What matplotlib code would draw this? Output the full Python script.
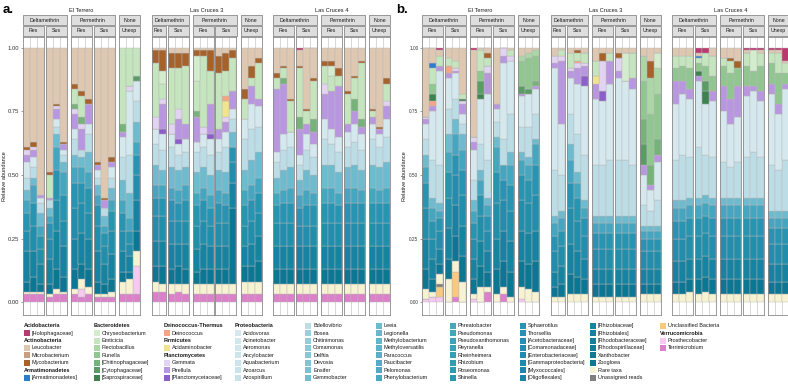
import matplotlib
matplotlib.use("Agg")
import matplotlib.pyplot as plt
from matplotlib.colors import LinearSegmentedColormap
from matplotlib.patches import Rectangle

plt.rcParams['font.family'] = ['Liberation Sans', 'DejaVu Sans']

W, H = 788, 384

# ---- taxonomy (legend order) ----
groups = [
    ("Acidobacteria", ["[Holophagaceae]"]),
    ("Actinobacteria", ["Leucobacter", "Microbacterium", "Mycobacterium"]),
    ("Armatimonadetes", ["[Armatimonadetes]"]),
    ("Bacteroidetes", ["Chryseobacterium", "Emticicia", "Flectobacillus", "Runella",
                       "[Chitinophagaceae]", "[Cytophagaceae]", "[Saprospiraceae]"]),
    ("Deinococcus-Thermus", ["Deinococcus"]),
    ("Firmicutes", ["Acidaminobacter"]),
    ("Planctomycetes", ["Gemmata", "Pirellula", "[Planctomycetaceae]"]),
    ("Proteobacteria", ["Acidovorax", "Acinetobacter", "Aeromonas", "Ancylobacter", "Aquabacterium",
                        "Azoarcus", "Azospirillum", "Bdellovibrio", "Bosea", "Chitinimonas", "Comamonas",
                        "Delftia", "Devosia", "Ensifer", "Gemmobacter", "Leeia", "Legionella",
                        "Methylobacterium", "Methyloversatilis", "Paracoccus", "Paucibacter", "Pelomonas",
                        "Phenylobacterium", "Phreatobacter", "Pseudomonas", "Pseudoxanthomonas",
                        "Reyranella", "Rheinheimera", "Rhizobium", "Roseomonas", "Shinella",
                        "Sphaerotilus", "Thorsellia", "[Acetobacteraceae]", "[Comamonadaceae]",
                        "[Enterobacteriaceae]", "[Gammaproteobacteria]", "[Myxococcales]",
                        "[Oligoflexales]", "[Rhizobiaceae]", "[Rhizobiales]", "[Rhodobacteraceae]",
                        "[Rhodospirillaceae]", "Xanthobacter", "Zoogloea"]),
    (None, ["Rare taxa", "Unassigned reads", "Unclassified Bacteria"]),
    ("Verrucomicrobia", ["Prosthecobacter", "Terrimicrobium"]),
]

fixed_colors = {
    "[Holophagaceae]": "#b83a6e", "Leucobacter": "#dfc8b1", "Microbacterium": "#c6a07f",
    "Mycobacterium": "#a5632b", "[Armatimonadetes]": "#2e7bc8",
    "Chryseobacterium": "#d3ecce", "Emticicia": "#c4e5bd", "Flectobacillus": "#abd7a6",
    "Runella": "#92c690", "[Chitinophagaceae]": "#77b27b", "[Cytophagaceae]": "#5b9c66",
    "[Saprospiraceae]": "#3e824f", "Deinococcus": "#f5a585", "Acidaminobacter": "#f2e38e",
    "Gemmata": "#e2d3f2", "Pirellula": "#b897e0", "[Planctomycetaceae]": "#8b5ec9",
    "Rare taxa": "#f6f2d2", "Unassigned reads": "#808080", "Unclassified Bacteria": "#f8c97f",
    "Prosthecobacter": "#f7c9f1", "Terrimicrobium": "#dc80c9",
}
proteo_cmap = LinearSegmentedColormap.from_list(
    "proteo", [(0, "#d4e8ee"), (0.15, "#c6e1e9"), (0.18, "#9ccfdc"), (0.35, "#6cb9cd"),
               (0.5, "#4aa8c2"), (0.7, "#2995b2"), (0.85, "#1a87a5"), (1.0, "#0d7693")])

taxa = [t for _, items in groups for t in items]
colors = dict(fixed_colors)
proteo = groups[7][1]
for i, t in enumerate(proteo):
    colors[t] = proteo_cmap(i / (len(proteo) - 1))

CODES = {'Hol': '[Holophagaceae]', 'Leu': 'Leucobacter', 'Mic': 'Microbacterium',
         'Myc': 'Mycobacterium', 'Arm': '[Armatimonadetes]', 'Chr': 'Chryseobacterium',
         'Emt': 'Emticicia', 'Fle': 'Flectobacillus', 'Run': 'Runella',
         'Cht': '[Chitinophagaceae]', 'Cyt': '[Cytophagaceae]', 'Sap': '[Saprospiraceae]',
         'Dei': 'Deinococcus', 'Aca': 'Acidaminobacter', 'Gmt': 'Gemmata', 'Pir': 'Pirellula',
         'Pla': '[Planctomycetaceae]', 'Acv': 'Acidovorax', 'Bde': 'Bdellovibrio', 'Lee': 'Leeia',
         'Phr': 'Phreatobacter', 'Sph': 'Sphaerotilus', 'Cmd': '[Comamonadaceae]',
         'Rzc': '[Rhizobiaceae]', 'Zoo': 'Zoogloea', 'Rt': 'Rare taxa', 'Un': 'Unassigned reads',
         'Ub': 'Unclassified Bacteria', 'Pro': 'Prosthecobacter', 'Ter': 'Terrimicrobium'}

# ---- relative abundance (%) per sample; facets: Delta Res, Delta Sus, Per Res, Per Sus, None ----
a_terrero = [
    [dict(Ter=3, Rt=1, Zoo=4, Rzc=12, Cmd=8, Sph=7, Phr=5, Lee=4, Bde=5, Acv=6, Gmt=2, Pir=3, Myc=1, Leu=39),
     dict(Ter=3, Rt=1, Zoo=6, Rzc=10, Cmd=10, Sph=9, Phr=7, Lee=3, Bde=4, Acv=4, Gmt=1, Pir=3, Myc=2, Leu=37),
     dict(Ter=3, Rt=1, Zoo=3, Rzc=8, Cmd=6, Sph=5, Phr=4, Lee=5, Bde=4, Acv=2, Pir=1, Leu=58)],
    [dict(Ter=2, Rt=1, Zoo=4, Rzc=10, Cmd=8, Sph=6, Phr=3, Lee=3, Bde=3, Pir=1, Emt=9, Myc=1, Leu=49),
     dict(Ter=3, Rt=2, Zoo=8, Rzc=15, Cmd=12, Sph=12, Phr=9, Lee=5, Bde=3, Acv=3, Gmt=1, Pir=4, Myc=1, Leu=22),
     dict(Ter=3, Rt=1, Zoo=6, Rzc=12, Cmd=10, Sph=10, Phr=9, Lee=4, Bde=3, Acv=2, Pir=2, Myc=1, Leu=37)],
    [dict(Ter=3, Rt=2, Zoo=8, Rzc=12, Cmd=12, Sph=10, Phr=6, Lee=5, Bde=6, Acv=4, Pir=6, Gmt=2, Cht=2, Emt=6, Myc=2, Leu=14),
     dict(Ter=2, Pro=3, Rt=4, Zoo=6, Rzc=12, Cmd=12, Sph=8, Phr=6, Lee=4, Bde=3, Pir=8, Gmt=2, Cht=3, Emt=8, Myc=2, Leu=17),
     dict(Ter=3, Rt=3, Zoo=7, Rzc=12, Cmd=10, Sph=10, Phr=6, Lee=8, Bde=7, Acv=4, Pir=8, Myc=2, Leu=20)],
    [dict(Ter=2, Rt=1, Zoo=5, Rzc=12, Cmd=10, Sph=8, Phr=4, Lee=4, Bde=3, Acv=3, Pir=2, Myc=1, Leu=45),
     dict(Ter=2, Rt=1, Zoo=4, Rzc=8, Cmd=7, Sph=5, Phr=3, Lee=4, Bde=3, Pir=3, Myc=1, Leu=59),
     dict(Ter=2, Rt=2, Zoo=5, Rzc=10, Cmd=9, Sph=8, Phr=4, Lee=5, Bde=4, Acv=4, Pir=2, Myc=2, Leu=43)],
    [dict(Ter=3, Rt=5, Zoo=4, Rzc=8, Cmd=8, Sph=7, Phr=5, Lee=8, Bde=9, Acv=8, Pir=2, Cht=3, Emt=30),
     dict(Ter=3, Rt=6, Zoo=3, Rzc=6, Cmd=5, Sph=5, Phr=5, Lee=10, Bde=15, Acv=25, Gmt=2, Emt=15),
     dict(Ter=3, Pro=11, Rt=6, Zoo=8, Rzc=12, Cmd=10, Sph=8, Phr=5, Lee=8, Bde=8, Acv=8, Cyt=2, Emt=11)],
]
a_cruces3 = [
    [dict(Ter=4, Rt=4, Zoo=6, Rzc=10, Cmd=10, Sph=7, Phr=5, Lee=8, Bde=8, Acv=6, Gmt=5, Emt=21, Myc=5, Leu=1),
     dict(Ter=4, Rt=3, Zoo=7, Rzc=10, Cmd=10, Sph=7, Phr=5, Lee=6, Bde=8, Acv=6, Pla=2, Pir=10, Gmt=2, Emt=6, Chr=5, Myc=8, Leu=1)],
    [dict(Ter=3, Rt=4, Zoo=6, Rzc=10, Cmd=9, Sph=8, Phr=5, Lee=8, Bde=8, Acv=5, Gmt=4, Emt=22, Myc=6, Leu=2),
     dict(Ter=4, Rt=3, Zoo=7, Rzc=9, Cmd=9, Sph=7, Phr=5, Lee=8, Bde=6, Acv=4, Pla=2, Pir=8, Gmt=4, Emt=16, Myc=6, Leu=2),
     dict(Ter=3, Rt=4, Zoo=6, Rzc=10, Cmd=9, Sph=8, Phr=6, Lee=7, Bde=6, Acv=5, Pir=6, Emt=23, Myc=5, Leu=2)],
    [dict(Ter=3, Rt=4, Zoo=5, Rzc=9, Cmd=9, Sph=8, Phr=5, Lee=8, Bde=8, Acv=4, Pir=10, Emt=12, Cht=2, Chr=10, Myc=2, Leu=1),
     dict(Ter=3, Rt=4, Zoo=6, Rzc=10, Cmd=9, Sph=8, Phr=5, Lee=8, Bde=8, Acv=5, Gmt=3, Emt=28, Myc=2, Leu=1),
     dict(Ter=3, Rt=4, Zoo=6, Rzc=9, Cmd=8, Sph=7, Phr=5, Lee=8, Bde=8, Acv=6, Pla=2, Pir=12, Emt=13, Myc=8, Leu=1)],
    [dict(Ter=3, Rt=4, Zoo=6, Rzc=9, Cmd=9, Sph=8, Phr=5, Lee=8, Bde=7, Acv=5, Pir=4, Emt=22, Myc=7, Leu=3),
     dict(Ter=3, Rt=4, Zoo=6, Rzc=9, Cmd=9, Sph=7, Phr=5, Lee=8, Bde=10, Acv=6, Gmt=2, Pir=4, Aca=6, Dei=2, Emt=10, Myc=7, Leu=2),
     dict(Ter=3, Rt=4, Zoo=30, Rzc=10, Cmd=8, Sph=6, Lee=6, Bde=5, Acv=4, Pir=7, Emt=13, Myc=3, Leu=1)],
    [dict(Ter=3, Rt=5, Zoo=6, Rzc=8, Cmd=8, Sph=8, Phr=6, Lee=8, Bde=12, Acv=8, Emt=8, Myc=4, Leu=16),
     dict(Ter=3, Rt=5, Zoo=6, Rzc=9, Cmd=9, Sph=8, Phr=6, Lee=10, Bde=12, Acv=10, Pir=7, Emt=3, Myc=5, Leu=7),
     dict(Ter=3, Rt=5, Zoo=8, Rzc=10, Cmd=9, Sph=8, Phr=6, Lee=10, Bde=10, Acv=8, Pir=3, Emt=14, Myc=2, Leu=4)],
]
a_cruces4 = [
    [dict(Ter=3, Rt=4, Zoo=6, Rzc=9, Cmd=9, Sph=7, Phr=5, Lee=6, Bde=6, Acv=4, Pir=25, Emt=4, Myc=2, Leu=10),
     dict(Ter=3, Rt=4, Zoo=6, Rzc=9, Cmd=9, Sph=8, Phr=5, Lee=8, Bde=8, Acv=6, Pir=20, Cht=2, Emt=4, Myc=1, Leu=7),
     dict(Ter=3, Rt=4, Zoo=6, Rzc=9, Cmd=9, Sph=8, Phr=6, Lee=8, Bde=8, Acv=6, Emt=12, Myc=1, Leu=20)],
    [dict(Ter=3, Rt=4, Zoo=6, Rzc=9, Cmd=8, Sph=7, Phr=5, Lee=6, Bde=6, Acv=4, Pir=10, Cht=5, Emt=19, Myc=1, Leu=6, Hol=1),
     dict(Ter=3, Rt=4, Zoo=6, Rzc=9, Cmd=8, Sph=8, Phr=6, Lee=8, Bde=8, Acv=6, Pir=4, Emt=5, Myc=1, Leu=24),
     dict(Ter=3, Rt=4, Zoo=6, Rzc=9, Cmd=8, Sph=8, Phr=5, Lee=7, Bde=7, Acv=5, Pir=5, Cht=5, Emt=15, Myc=1, Leu=12)],
    [dict(Ter=3, Rt=4, Zoo=6, Rzc=9, Cmd=9, Sph=8, Phr=6, Lee=9, Bde=10, Acv=8, Gmt=4, Pir=10, Emt=7, Myc=2, Leu=5),
     dict(Ter=3, Rt=4, Zoo=6, Rzc=9, Cmd=9, Sph=8, Phr=6, Lee=9, Bde=8, Acv=6, Pir=15, Chr=4, Emt=6, Myc=2, Leu=5),
     dict(Ter=3, Rt=4, Zoo=6, Rzc=9, Cmd=9, Sph=7, Phr=5, Lee=8, Bde=8, Acv=6, Pir=20, Emt=4, Myc=3, Leu=8)],
    [dict(Ter=3, Rt=4, Zoo=6, Rzc=9, Cmd=9, Sph=8, Phr=6, Lee=8, Bde=8, Acv=6, Pir=3, Emt=12, Myc=1, Leu=17),
     dict(Ter=3, Rt=4, Zoo=6, Rzc=9, Cmd=9, Sph=8, Phr=6, Lee=9, Bde=9, Acv=7, Pir=5, Cht=5, Emt=8, Myc=1, Leu=11),
     dict(Ter=3, Rt=4, Zoo=6, Rzc=9, Cmd=9, Sph=8, Phr=5, Lee=8, Bde=8, Acv=6, Pir=3, Cht=3, Emt=22, Myc=1, Leu=5)],
    [dict(Ter=3, Rt=4, Zoo=6, Rzc=9, Cmd=9, Sph=8, Phr=6, Lee=9, Bde=10, Acv=6, Pir=3, Emt=2, Myc=1, Leu=24),
     dict(Ter=3, Rt=4, Zoo=6, Rzc=9, Cmd=9, Sph=8, Phr=5, Lee=9, Bde=8, Acv=5, Pir=2, Myc=1, Leu=31),
     dict(Ter=3, Rt=4, Zoo=6, Rzc=9, Cmd=9, Sph=8, Phr=6, Lee=10, Bde=10, Acv=7, Gmt=2, Pir=5, Emt=7, Myc=2, Leu=12)],
]
b_terrero = [
    [dict(Pro=1, Rt=4, Zoo=8, Rzc=12, Cmd=12, Sph=10, Phr=6, Lee=5, Bde=6, Acv=6, Pir=2, Gmt=1, Leu=27),
     dict(Pro=2, Rt=2, Zoo=5, Rzc=8, Cmd=8, Sph=7, Phr=5, Lee=4, Bde=15, Acv=19, Pir=2, Dei=2, Sap=3, Run=4, Emt=6, Arm=2, Leu=6),
     dict(Pro=2, Ub=4, Un=1, Rt=4, Zoo=4, Rzc=6, Cmd=7, Sph=5, Phr=3, Lee=3, Bde=15, Acv=37, Pir=2, Emt=4, Leu=2, Hol=1)],
    [dict(Rt=9, Zoo=8, Rzc=12, Cmd=12, Sph=10, Phr=8, Lee=7, Bde=10, Acv=12, Pir=2, Dei=3, Emt=3, Leu=4),
     dict(Ter=2, Ub=10, Rt=4, Zoo=10, Rzc=12, Cmd=12, Sph=8, Phr=8, Lee=6, Bde=8, Acv=10, Pir=1, Gmt=1, Emt=3, Leu=5),
     dict(Rt=8, Zoo=10, Rzc=12, Cmd=12, Sph=10, Phr=8, Lee=6, Bde=4, Acv=4, Pir=4, Gmt=1, Sap=1, Emt=2, Leu=18)],
    [dict(Pro=1, Rt=2, Zoo=6, Rzc=8, Cmd=8, Sph=6, Phr=5, Lee=4, Bde=8, Acv=12, Pir=3, Gmt=2, Leu=34, Hol=1),
     dict(Rt=6, Zoo=8, Rzc=10, Cmd=10, Sph=8, Phr=6, Lee=4, Bde=10, Acv=18, Sap=2, Cyt=5, Run=4, Emt=8, Leu=1),
     dict(Ter=4, Rt=2, Zoo=6, Rzc=8, Cmd=8, Sph=6, Phr=4, Lee=3, Bde=15, Acv=26, Pir=8, Gmt=3, Emt=3, Myc=2, Leu=2)],
    [dict(Rt=3, Zoo=10, Rzc=12, Cmd=14, Sph=12, Phr=10, Lee=4, Bde=6, Acv=5, Pir=2, Leu=22),
     dict(Ter=3, Rt=3, Zoo=10, Rzc=12, Cmd=12, Sph=8, Phr=6, Bde=10, Acv=30, Pir=3, Gmt=3),
     dict(Rt=2, Zoo=10, Rzc=12, Cmd=12, Sph=10, Phr=8, Lee=5, Bde=15, Acv=21, Gmt=2, Emt=2, Leu=1)],
    [dict(Pro=1, Rt=5, Zoo=10, Rzc=12, Cmd=12, Sph=10, Phr=6, Lee=3, Bde=10, Acv=12, Pir=1, Cyt=3, Run=10, Fle=2, Leu=3),
     dict(Rt=5, Zoo=10, Rzc=12, Cmd=12, Sph=9, Phr=6, Lee=3, Bde=12, Acv=13, Cyt=2, Run=12, Fle=2, Leu=2),
     dict(Rt=4, Zoo=12, Rzc=12, Cmd=14, Sph=12, Phr=8, Lee=2, Bde=10, Acv=10, Pir=1, Cht=2, Run=10, Fle=2, Leu=1)],
]
b_cruces3 = [
    [dict(Rt=2, Zoo=4, Rzc=6, Cmd=8, Sph=6, Phr=5, Lee=3, Bde=18, Acv=40, Pir=2, Gmt=3, Leu=3),
     dict(Rt=2, Zoo=5, Rzc=7, Cmd=8, Sph=6, Phr=5, Lee=3, Bde=14, Acv=20, Pir=25, Gmt=2, Emt=2, Leu=1)],
    [dict(Rt=3, Zoo=8, Rzc=12, Cmd=14, Sph=10, Phr=9, Lee=6, Bde=12, Acv=14, Pir=3, Gmt=1, Emt=6, Leu=2),
     dict(Rt=3, Zoo=7, Rzc=10, Cmd=12, Sph=9, Phr=6, Lee=4, Bde=15, Acv=20, Pir=6, Gmt=2, Dei=1, Emt=3, Myc=1, Leu=1),
     dict(Rt=3, Zoo=6, Rzc=8, Cmd=9, Sph=7, Phr=4, Lee=3, Bde=18, Acv=27, Pla=4, Pir=4, Gmt=1, Emt=4, Leu=2)],
    [dict(Rt=2, Zoo=5, Rzc=6, Cmd=8, Sph=6, Phr=4, Lee=3, Bde=20, Acv=26, Pir=6, Aca=3, Emt=6, Leu=5),
     dict(Rt=2, Zoo=5, Rzc=6, Cmd=8, Sph=6, Phr=4, Lee=3, Bde=20, Acv=25, Pla=4, Gmt=12, Myc=3, Leu=2),
     dict(Rt=2, Zoo=5, Rzc=6, Cmd=8, Sph=6, Phr=4, Lee=3, Bde=22, Acv=30, Pir=9, Emt=3, Leu=2)],
    [dict(Rt=2, Zoo=5, Rzc=6, Cmd=8, Sph=6, Phr=4, Lee=3, Bde=22, Acv=32, Pir=3, Gmt=5, Myc=2, Leu=2),
     dict(Rt=2, Zoo=5, Rzc=6, Cmd=8, Sph=6, Phr=4, Lee=3, Bde=22, Acv=31, Chr=11, Leu=2),
     dict(Rt=2, Zoo=5, Rzc=6, Cmd=8, Sph=6, Phr=4, Lee=3, Bde=20, Acv=30, Pir=4, Emt=10, Leu=2)],
    [dict(Rt=3, Zoo=4, Rzc=6, Cmd=7, Sph=5, Phr=3, Lee=2, Bde=8, Acv=12, Pir=4, Cht=10, Cyt=8, Run=15, Fle=10, Leu=3),
     dict(Rt=3, Zoo=4, Rzc=6, Cmd=7, Sph=5, Phr=3, Lee=2, Bde=6, Acv=8, Pir=2, Cht=8, Run=20, Fle=14, Myc=7, Leu=5),
     dict(Rt=3, Zoo=4, Rzc=6, Cmd=7, Sph=5, Phr=3, Lee=2, Bde=10, Acv=15, Pir=3, Cht=6, Run=18, Fle=10, Chr=6, Leu=2)],
]
b_cruces4 = [
    [dict(Rt=3, Zoo=5, Rzc=8, Cmd=9, Sph=7, Phr=5, Lee=3, Bde=16, Acv=22, Pir=9, Run=5, Emt=5, Leu=3),
     dict(Rt=3, Zoo=5, Rzc=8, Cmd=9, Sph=7, Phr=5, Lee=3, Bde=18, Acv=24, Pir=5, Run=6, Emt=4, Leu=3),
     dict(Rt=4, Zoo=5, Rzc=8, Cmd=9, Sph=7, Phr=5, Lee=3, Bde=16, Acv=23, Pir=4, Run=8, Emt=5, Leu=3)],
    [dict(Rt=3, Zoo=6, Rzc=8, Cmd=9, Sph=7, Phr=5, Lee=3, Bde=20, Acv=26, Pir=2, Sap=2, Run=3, Emt=2, Arm=1, Leu=1, Hol=2),
     dict(Rt=4, Zoo=6, Rzc=8, Cmd=9, Sph=7, Phr=5, Lee=3, Bde=16, Acv=20, Sap=5, Cyt=4, Run=6, Emt=5, Hol=2),
     dict(Rt=3, Zoo=6, Rzc=8, Cmd=9, Sph=7, Phr=5, Lee=3, Bde=16, Acv=22, Pir=4, Run=6, Emt=8, Leu=3)],
    [dict(Rt=3, Zoo=6, Rzc=8, Cmd=9, Sph=7, Phr=5, Lee=3, Bde=14, Acv=20, Pir=10, Run=8, Emt=3, Leu=4),
     dict(Rt=3, Zoo=6, Rzc=8, Cmd=9, Sph=7, Phr=5, Lee=3, Bde=12, Acv=17, Pir=10, Run=10, Emt=5, Myc=1, Leu=4),
     dict(Rt=3, Zoo=6, Rzc=8, Cmd=9, Sph=7, Phr=5, Lee=3, Bde=14, Acv=18, Pir=12, Run=7, Myc=3, Leu=5)],
    [dict(Rt=3, Zoo=6, Rzc=8, Cmd=9, Sph=7, Phr=5, Lee=3, Bde=16, Acv=24, Pir=4, Run=8, Emt=5, Leu=1, Hol=1),
     dict(Rt=3, Zoo=6, Rzc=8, Cmd=9, Sph=7, Phr=5, Lee=3, Bde=18, Acv=24, Pir=2, Run=6, Chr=8, Hol=1),
     dict(Rt=3, Zoo=6, Rzc=8, Cmd=9, Sph=7, Phr=5, Lee=3, Bde=16, Acv=22, Pir=4, Run=10, Emt=5, Leu=1, Hol=1)],
    [dict(Rt=3, Zoo=5, Rzc=7, Cmd=8, Sph=6, Phr=4, Lee=3, Bde=18, Acv=28, Pir=4, Run=8, Emt=4, Leu=1, Hol=1),
     dict(Rt=3, Zoo=5, Rzc=7, Cmd=8, Sph=6, Phr=4, Lee=3, Bde=16, Acv=22, Pir=4, Run=12, Emt=8, Leu=1, Hol=1),
     dict(Rt=3, Zoo=5, Rzc=7, Cmd=8, Sph=6, Phr=4, Lee=3, Bde=20, Acv=28, Pir=2, Run=4, Emt=4, Leu=1, Hol=5)],
]

sites = ["El Terrero", "Las Cruces 3", "Las Cruces 4"]
treatments = ["Deltamethrin", "Permethrin", "None"]
status = ["Res", "Sus", "Res", "Sus", "Unexp"]

# ---- layout (pixels) ----
BAR_PX, SMALL_GAP, BIG_GAP, SITE_GAP = 7.0, 2.0, 4.0, 11.5
AX_TOP, AX_BOT = 36.5, 315.0
YMIN, YMAX = -0.051, 1.045
STRIP_FC, STRIP_EC, FRAME = "#dedede", "#8a8a8a", "#8a8a8a"

fig = plt.figure(figsize=(W / 100, H / 100), dpi=100)


def fx(x):
    return x / W


def fy(y):
    return 1 - y / H


def strip(x0, x1, y0, y1, label):
    fig.add_artist(Rectangle((fx(x0), fy(y1)), fx(x1) - fx(x0), fy(y0) - fy(y1),
                             transform=fig.transFigure, facecolor=STRIP_FC,
                             edgecolor=STRIP_EC, linewidth=0.6))
    fig.text(fx((x0 + x1) / 2), fy((y0 + y1) / 2), label, ha="center", va="center",
             fontsize=3.8, color="#1a1a1a")


def draw_facet(ax, bars, show_y, tick_size):
    n = len(bars)
    totals = [sum(b.values()) for b in bars]
    bottoms = [0.0] * n
    for name in reversed(taxa):
        code = [k for k, v in CODES.items() if v == name]
        if not code:
            continue
        h = [b.get(code[0], 0) / t for b, t in zip(bars, totals)]
        if not any(h):
            continue
        ax.bar(range(n), h, width=1.0, bottom=bottoms, color=colors[name],
               edgecolor="#b8b8b8", linewidth=0.3)
        bottoms = [b + v for b, v in zip(bottoms, h)]
    for k in range(1, n):
        ax.axvline(k - 0.5, color="#c8c8c8", lw=0.5, zorder=0)
    ax.set_xlim(-0.5, n - 0.5)
    ax.set_ylim(YMIN, YMAX)
    ax.set_xticks([])
    for s in ax.spines.values():
        s.set_color(FRAME)
        s.set_linewidth(0.6)
    if show_y:
        ax.set_yticks([0, 0.25, 0.5, 0.75, 1.0])
        ax.set_yticklabels(["0.00", "0.25", "0.50", "0.75", "1.00"])
        ax.tick_params(axis="y", length=1.5, width=0.4, color="#555555",
                       labelsize=tick_size, pad=1.2, labelcolor="#333333")
    else:
        ax.set_yticks([])


def draw_panel(x0, panel_sites, letter, lx, ylab_x, tick_size):
    x = x0
    first = True
    for site_name, facets in zip(sites, panel_sites):
        site_start = x
        spans = []
        for i, bars in enumerate(facets):
            w = len(bars) * BAR_PX
            ax = fig.add_axes([fx(x), fy(AX_BOT), w / W, (AX_BOT - AX_TOP) / H])
            draw_facet(ax, bars, first, tick_size)
            first = False
            spans.append((x, x + w))
            strip(x, x + w, 26, 35.5, status[i])
            x += w
            if i in (0, 2):
                x += SMALL_GAP
            elif i in (1, 3):
                x += BIG_GAP
        strip(spans[0][0], spans[1][1], 15, 25, treatments[0])
        strip(spans[2][0], spans[3][1], 15, 25, treatments[1])
        strip(spans[4][0], spans[4][1], 15, 25, treatments[2])
        fig.text(fx((site_start + spans[4][1]) / 2), fy(10), site_name, ha="center",
                 va="center", fontsize=4.1, color="#1a1a1a")
        x = spans[4][1] + SITE_GAP
    fig.text(fx(lx), fy(10), letter, ha="left", va="center", fontsize=9.5,
             fontweight="bold")
    fig.text(fx(ylab_x), fy((AX_TOP + AX_BOT) / 2), "Relative abundance", rotation=90,
             ha="center", va="center", fontsize=4.1, color="#1a1a1a")


draw_panel(23, [a_terrero, a_cruces3, a_cruces4], "a.", 3, 5, 4.2)
draw_panel(422, [b_terrero, b_cruces3, b_cruces4], "b.", 396, 404, 3.4)

# ---- legend ----
entries = []
for header, items in groups:
    if header:
        entries.append(("h", header))
    entries.extend(("i", t) for t in items)

col_x = [24, 94, 164, 235, 305, 376, 450, 520, 590, 660]
ROW0, ROW_DY, SW = 325.7, 7.42, 6.0
for idx, (kind, name) in enumerate(entries):
    col, row = divmod(idx, 8)
    x = col_x[col]
    y = ROW0 + row * ROW_DY
    if kind == "h":
        fig.text(fx(x), fy(y), name, ha="left", va="center", fontsize=4.0,
                 fontweight="bold", color="#1a1a1a")
    else:
        fig.add_artist(Rectangle((fx(x), fy(y + SW / 2)), SW / W, SW / H,
                                 transform=fig.transFigure, facecolor=colors[name],
                                 edgecolor="none"))
        fig.text(fx(x + SW + 2), fy(y), name, ha="left", va="center", fontsize=4.0,
                 color="#1a1a1a")

fig.savefig("out.png", dpi=100)
